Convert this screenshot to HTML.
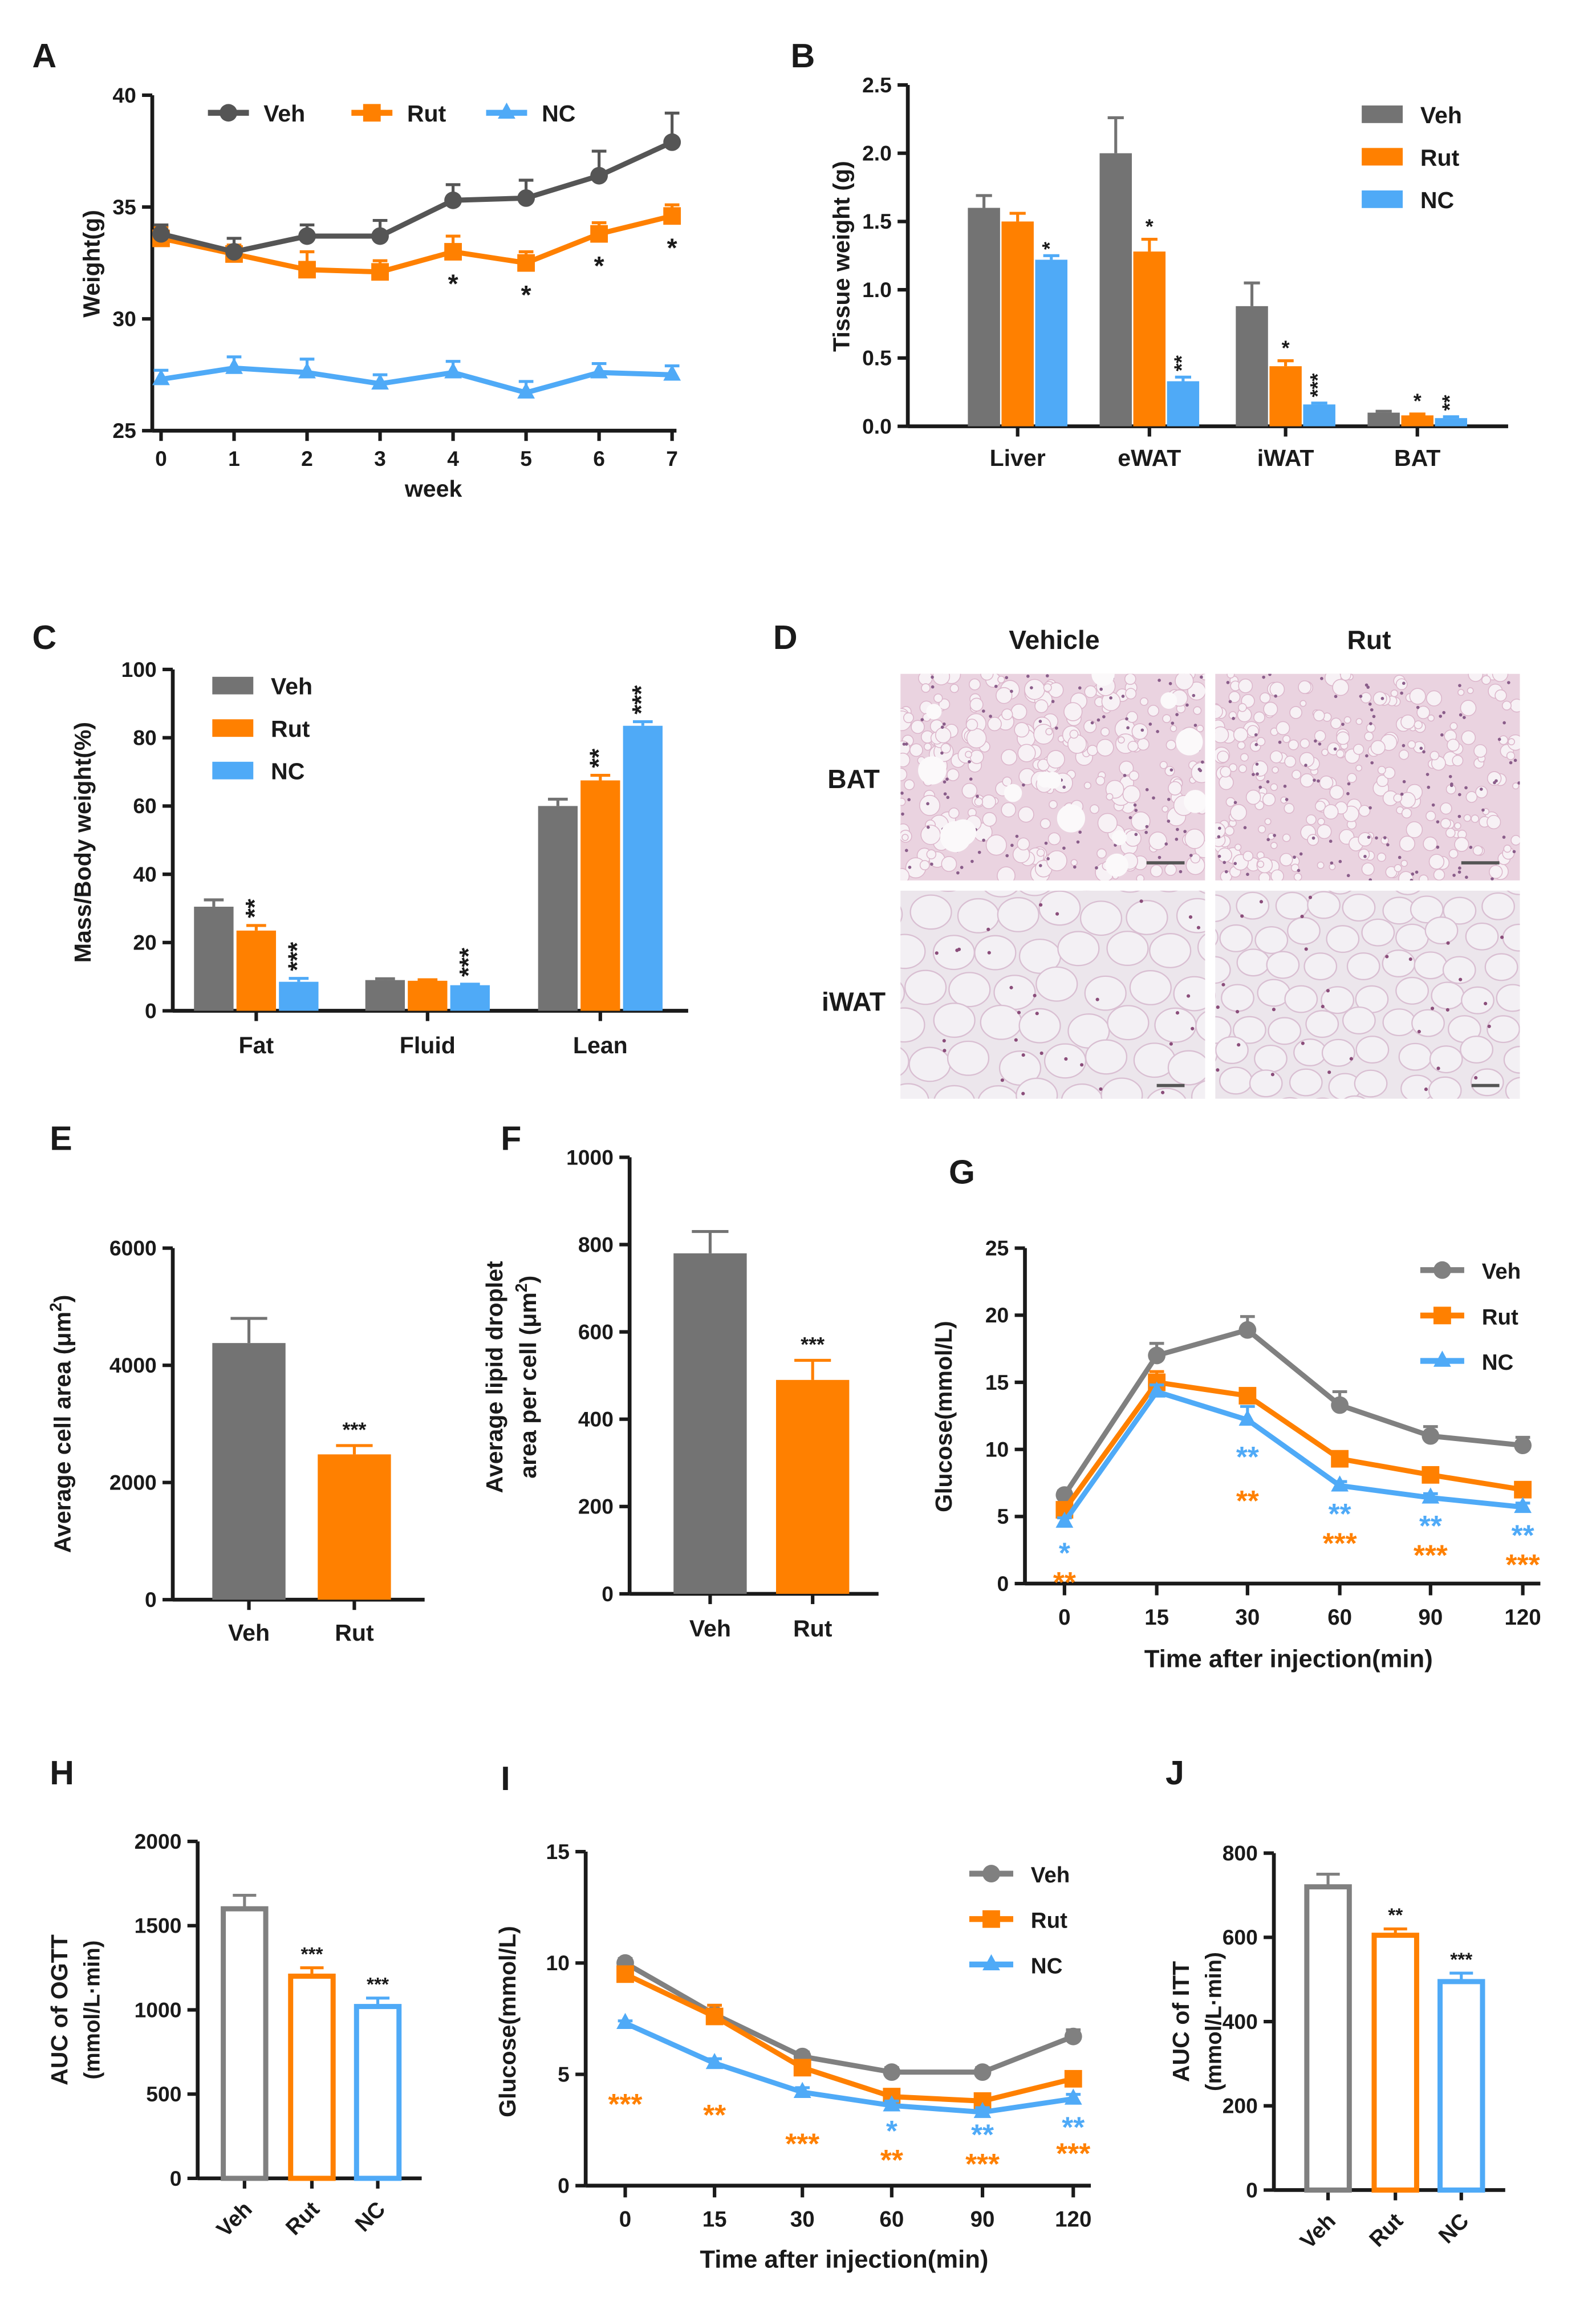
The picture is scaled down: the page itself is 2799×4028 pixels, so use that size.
<!DOCTYPE html>
<html><head><meta charset="utf-8"><style>
html,body{margin:0;padding:0;background:#fff;}
svg{display:block;font-family:"Liberation Sans",Arial,sans-serif;}
</style></head><body>
<svg id="fig" xmlns="http://www.w3.org/2000/svg" width="2799" height="4028" viewBox="0 0 1090 1568" preserveAspectRatio="none"></svg>
<script>
// ---- data ----
const aWeeks=[0,1,2,3,4,5,6,7];
const aVeh=[33.8,33.0,33.7,33.7,35.3,35.4,36.4,37.9];
const aVehErr=[0.4,0.6,0.5,0.7,0.7,0.8,1.1,1.3];
const aRut=[33.6,32.9,32.2,32.1,33.0,32.5,33.8,34.6];
const aRutErr=[0.5,0.4,0.8,0.5,0.7,0.5,0.5,0.5];
const aNC=[27.3,27.8,27.6,27.1,27.6,26.7,27.6,27.5];
const aNCErr=[0.4,0.5,0.6,0.4,0.5,0.5,0.4,0.4];
const aTicks=[25,30,35,40];
const aStars=['','','','','*','*','*','*'];

const bCats=['Liver','eWAT','iWAT','BAT'];
const bVeh=[1.6,2.0,0.88,0.1];
const bVehErr=[0.09,0.26,0.17,0.01];
const bRut=[1.5,1.28,0.44,0.08];
const bRutErr=[0.06,0.09,0.04,0.01];
const bNC=[1.22,0.33,0.16,0.06];
const bNCErr=[0.03,0.03,0.01,0.01];
const bTicks=[0,0.5,1.0,1.5,2.0,2.5];
const bRutStars=['','*','*','*'];
const bNCStars=['*','**','***','**'];

const cCats=['Fat','Fluid','Lean'];
const cVeh=[30.5,9,60];
const cVehErr=[2,0.4,2];
const cRut=[23.5,8.8,67.5];
const cRutErr=[1.5,0.3,1.5];
const cNC=[8.5,7.5,83.5];
const cNCErr=[1,0.3,1.2];
const cTicks=[0,20,40,60,80,100];
const cRutStars=['**','','**'];
const cNCStars=['***','***','***'];

const eCats=['Veh','Rut'];
const eVals=[4380,2480];
const eErr=[420,150];
const eTicks=[0,2000,4000,6000];
const fVals=[780,490];
const fErr=[50,45];
const fTicks=[0,200,400,600,800,1000];

const gTimes=['0','15','30','60','90','120'];
const gVeh=[6.6,17,18.9,13.3,11,10.3];
const gVehErr=[0.3,0.9,1.0,1.0,0.7,0.6];
const gRut=[5.5,15,14,9.3,8.1,7];
const gRutErr=[0.3,0.8,0.4,0.4,0.3,0.3];
const gNC=[4.6,14.3,12.2,7.3,6.4,5.7];
const gNCErr=[0.3,0.5,1.0,0.3,0.3,0.3];
const gTicks=[0,5,10,15,20,25];
const gNCStars=['*','','**','**','**','**'];
const gRutStars=['**','','**','***','***','***'];

const hCats=['Veh','Rut','NC'];
const hVals=[1600,1200,1020];
const hErr=[80,50,50];
const hTicks=[0,500,1000,1500,2000];
const hStars=['','***','***'];

const iTimes=['0','15','30','60','90','120'];
const iVeh=[10,7.7,5.8,5.1,5.1,6.7];
const iVehErr=[0.2,0.4,0.2,0.2,0.2,0.3];
const iRut=[9.5,7.6,5.3,4,3.8,4.8];
const iRutErr=[0.2,0.5,0.2,0.3,0.2,0.3];
const iNC=[7.3,5.5,4.2,3.6,3.3,3.9];
const iNCErr=[0.1,0.2,0.2,0.2,0.2,0.2];
const iTicks=[0,5,10,15];
const iNCStars=['','','','*','**','**'];
const iRutStars=['***','**','***','**','***','***'];

const jVals=[720,605,495];
const jErr=[30,15,20];
const jTicks=[0,200,400,600,800];
const jStars=['','**','***'];

// ---- helpers ----
const NS='http://www.w3.org/2000/svg';
const svg=document.getElementById('fig');
const GRAY='#737373',ORANGE='#ff8000',BLUE='#4faaf7',INK='#1a1a1a';
function mk(tag,a,p){const e=document.createElementNS(NS,tag);for(const k in a)e.setAttribute(k,a[k]);(p||svg).appendChild(e);return e;}
function tx(s,x,y,a,p){const e=mk('text',Object.assign({x:x,y:y,'font-size':15,'font-weight':'bold',fill:INK,'text-anchor':'middle'},a||{}),p);e.textContent=s;return e;}
function group(name){const g=mk('g',{});return g;}
function lin(d0,d1,r0,r1){return v=>r0+(v-d0)*(r1-r0)/(d1-d0);}

function yAxis(g,x,y,ticks,fmt){
  const l=mk('line',{x1:x,y1:y(ticks[0]),x2:x,y2:y(ticks[ticks.length-1]),stroke:INK,'stroke-width':2.6},g);
  
  ticks.forEach(t=>{
    mk('line',{x1:x-7,y1:y(t),x2:x,y2:y(t),stroke:INK,'stroke-width':2.4},g);
    const e=tx(fmt?fmt(t):String(t),x-11,y(t)+5,{'text-anchor':'end','font-size':14.5},g);
    
  });
}
function ytitle(g,s,x,y,size){const e=tx(s,x,y,{transform:`rotate(-90 ${x} ${y})`,'font-size':size||16},g);return e;}
function letter(s,x,y){const e=tx(s,x,y,{'font-size':23,'text-anchor':'start'});}
function marker(g,kind,x,y,c,r){
  r=r||6;let e;
  if(kind==='c') e=mk('circle',{cx:x,cy:y,r:r,fill:c},g);
  else if(kind==='s') e=mk('rect',{x:x-r,y:y-r,width:2*r,height:2*r,fill:c},g);
  else e=mk('polygon',{points:`${x},${y-r-1} ${x-r},${y+r-2} ${x+r},${y+r-2}`,fill:c},g);
  return e;
}
function series(g,xs,vals,errs,y,c,kind,name){
  const pts=vals.map((v,i)=>xs[i]+','+y(v)).join(' ');
  const pl=mk('polyline',{points:pts,fill:'none',stroke:c,'stroke-width':3.5,'stroke-linejoin':'round'},g);
  
  vals.forEach((v,i)=>{
    const top=y(v+errs[i]);
    mk('line',{x1:xs[i],y1:y(v),x2:xs[i],y2:top,stroke:c,'stroke-width':2},g);
    mk('line',{x1:xs[i]-5,y1:top,x2:xs[i]+5,y2:top,stroke:c,'stroke-width':2},g);
    const m=marker(g,kind,xs[i],y(v),c);
    
  });
}
function legend(g,x,y0,dy,names,cols,kinds,size){
  names.forEach((n,i)=>{
    const y=y0+i*dy;
    const ln=mk('line',{x1:x,y1:y,x2:x+30,y2:y,stroke:cols[i],'stroke-width':4},g);
    
    if(kinds) marker(g,kinds[i],x+15,y,cols[i],6);
    const t=tx(n,x+42,y+6,{'text-anchor':'start','font-size':size||16},g);
    
  });
}
function barLegend(g,x,y0,dy,names,cols){
  names.forEach((n,i)=>{
    const y=y0+i*dy;
    const r=mk('rect',{x:x,y:y-6,width:28,height:12,fill:cols[i]},g);
    
    const t=tx(n,x+40,y+6,{'text-anchor':'start','font-size':16},g);
    
  });
}
function bar(g,cx,w,v,err,y,c,name,hollow){
  const r=hollow?mk('rect',{x:cx-w/2+1.5,y:y(v),width:w-3,height:y(0)-y(v),fill:'#fff',stroke:c,'stroke-width':3.5},g)
               :mk('rect',{x:cx-w/2,y:y(v),width:w,height:y(0)-y(v),fill:c},g);
  
  const top=y(v+err);
  mk('line',{x1:cx,y1:y(v),x2:cx,y2:top,stroke:c,'stroke-width':2},g);
  mk('line',{x1:cx-w/4,y1:top,x2:cx+w/4,y2:top,stroke:c,'stroke-width':2},g);
}

// ---- Panel A ----
letter('A',22,46);
(function(){
  const g=group('panel-a-weight-chart');
  const y=lin(25,40,294,65), x=lin(0,7,110,459);
  yAxis(g,104,y,aTicks);
  mk('line',{x1:104,y1:294,x2:462,y2:294,stroke:INK,'stroke-width':2.6},g);
  aWeeks.forEach(w=>{mk('line',{x1:x(w),y1:294,x2:x(w),y2:301,stroke:INK,'stroke-width':2.4},g);
    const t=tx(String(w),x(w),318,{'font-size':14.5},g);});
  const xt=tx('week',296,339,{'font-size':16},g);
  ytitle(g,'Weight(g)',68,180);
  const xs=aWeeks.map(x);
  series(g,xs,aNC,aNCErr,y,BLUE,'t','nc');
  series(g,xs,aRut,aRutErr,y,ORANGE,'s','rut');
  series(g,xs,aVeh,aVehErr,y,'#555','c','veh');
  aStars.forEach((s,i)=>{if(s){const t=tx(s,xs[i],y(aRut[i])+28,{'font-size':18},g);}});
  [['Veh','#555','c',142],['Rut',ORANGE,'s',240],['NC',BLUE,'t',332]].forEach(d=>{
    const ln=mk('line',{x1:d[3],y1:77,x2:d[3]+28,y2:77,stroke:d[1],'stroke-width':4},g);
    
    marker(g,d[2],d[3]+14,77,d[1],6);
    const t=tx(d[0],d[3]+38,83,{'text-anchor':'start','font-size':16},g);
    
  });
})();

// ---- Panel B ----
letter('B',540,46);
(function(){
  const g=group('panel-b-tissue-weight');
  const y=lin(0,2.5,291,58);
  yAxis(g,620,y,bTicks,t=>t.toFixed(1));
  mk('line',{x1:620,y1:291,x2:1030,y2:291,stroke:INK,'stroke-width':2.6},g);
  ytitle(g,'Tissue weight (g)',580,175);
  const cx=[695,785,878,968], w=22;
  bCats.forEach((c,i)=>{
    mk('line',{x1:cx[i],y1:291,x2:cx[i],y2:298,stroke:INK,'stroke-width':2.4},g);
    const t=tx(c,cx[i],318,{'font-size':16},g);
    bar(g,cx[i]-w-1,w,bVeh[i],bVehErr[i],y,GRAY,'bar-veh-'+c.toLowerCase());
    bar(g,cx[i],w,bRut[i],bRutErr[i],y,ORANGE,'bar-rut-'+c.toLowerCase());
    bar(g,cx[i]+w+1,w,bNC[i],bNCErr[i],y,BLUE,'bar-nc-'+c.toLowerCase());
    if(bRutStars[i]){const s=tx(bRutStars[i],cx[i],y(bRut[i]+bRutErr[i])-4,{'font-size':14},g);}
    if(bNCStars[i]){const yy=y(bNC[i]+bNCErr[i])-4;const s=tx(bNCStars[i],cx[i]+w+1,yy,{'font-size':14,transform:`rotate(-90 ${cx[i]+w+1} ${yy})`,'text-anchor':'start','dominant-baseline':'middle'},g);}
  });
  barLegend(g,930,78,29,['Veh','Rut','NC'],[GRAY,ORANGE,BLUE]);
})();

// ---- Panel C ----
letter('C',22,443);
(function(){
  const g=group('panel-c-body-composition');
  const y=lin(0,100,690,457);
  yAxis(g,118,y,cTicks);
  mk('line',{x1:118,y1:690,x2:470,y2:690,stroke:INK,'stroke-width':2.6},g);
  ytitle(g,'Mass/Body weight(%)',62,575);
  const cx=[175,292,410], w=27;
  cCats.forEach((c,i)=>{
    mk('line',{x1:cx[i],y1:690,x2:cx[i],y2:697,stroke:INK,'stroke-width':2.4},g);
    const t=tx(c,cx[i],719,{'font-size':16},g);
    bar(g,cx[i]-w-2,w,cVeh[i],cVehErr[i],y,GRAY,'bar-veh-'+c.toLowerCase());
    bar(g,cx[i],w,cRut[i],cRutErr[i],y,ORANGE,'bar-rut-'+c.toLowerCase());
    bar(g,cx[i]+w+2,w,cNC[i],cNCErr[i],y,BLUE,'bar-nc-'+c.toLowerCase());
    [[cRutStars[i],cx[i],cRut[i]+cRutErr[i]],[cNCStars[i],cx[i]+w+2,cNC[i]+cNCErr[i]]].forEach(d=>{
      if(!d[0])return;const yy=y(d[2])-5;
      const s=tx(d[0],d[1],yy,{'font-size':17,transform:`rotate(-90 ${d[1]} ${yy})`,'text-anchor':'start','dominant-baseline':'middle'},g);
      
    });
  });
  barLegend(g,145,468,29,['Veh','Rut','NC'],[GRAY,ORANGE,BLUE]);
})();

// ---- Panel D (histology) ----
letter('D',528,443);
(function(){
  const g=group('panel-d-histology');
  const tv=tx('Vehicle',720,443,{'font-size':18},g);
  const tr=tx('Rut',935,443,{'font-size':18},g);
  const lb=tx('BAT',583,538,{'font-size':18},g);
  const li=tx('iWAT',583,690,{'font-size':18},g);
  const panels=[[615,460,208,141,'bat-vehicle'],[830,460,208,141,'bat-rut'],[615,608,208,142,'iwat-vehicle'],[830,608,208,142,'iwat-rut']];
  let seed=7;function rnd(){seed=(seed*9301+49297)%233280;return seed/233280;}
  panels.forEach((p,k)=>{
    const isBat=k<2;
    const clip=mk('clipPath',{id:'cp'+k},g);
    mk('rect',{x:p[0],y:p[1],width:p[2],height:p[3]},clip);
    const r=mk('rect',{x:p[0],y:p[1],width:p[2],height:p[3],fill:isBat?'#ead3e0':'#ece6ec'},g);
    
    const cg=mk('g',{'clip-path':`url(#cp${k})`},g);
    if(isBat){
      for(let i=0;i<260;i++){const cx=p[0]+rnd()*p[2],cy=p[1]+rnd()*p[3];
        mk('circle',{cx:cx,cy:cy,r:2+rnd()*(k===0?5:3.5),fill:'#f7f1f5',stroke:'#dcb6cb','stroke-width':0.6},cg);}
      for(let i=0;i<110;i++){mk('circle',{cx:p[0]+rnd()*p[2],cy:p[1]+rnd()*p[3],r:1.1,fill:'#8a5d8a'},cg);}
      if(k===0){for(let i=0;i<14;i++){mk('circle',{cx:p[0]+rnd()*p[2],cy:p[1]+rnd()*p[3],r:5+rnd()*6,fill:'#fbf9fa'},cg);}}
    } else {
      const step=k===2?30:24;
      for(let yy=p[1]-10;yy<p[1]+p[3]+20;yy+=step*0.85){for(let xx=p[0]-10;xx<p[0]+p[2]+20;xx+=step){
        const ox=(rnd()-0.5)*8,oy=(rnd()-0.5)*8;
        mk('ellipse',{cx:xx+ox+((yy/step|0)%2)*step/2,cy:yy+oy,rx:step/2-1,ry:step*0.42-1,fill:'#f3f0f4',stroke:'#d9bfd2','stroke-width':0.9},cg);}}
      for(let i=0;i<30;i++){mk('circle',{cx:p[0]+rnd()*p[2],cy:p[1]+rnd()*p[3],r:1.2,fill:'#8a4d7a'},cg);}
    }
    const sb=mk('line',{x1:p[0]+p[2]-(isBat?40:33),y1:p[1]+p[3]-(isBat?12:9),x2:p[0]+p[2]-14,y2:p[1]+p[3]-(isBat?12:9),stroke:'#555','stroke-width':2.2},g);
    
  });
})();

// ---- Panel E ----
letter('E',34,785);
(function(){
  const g=group('panel-e-cell-area');
  const y=lin(0,6000,1092,852);
  yAxis(g,118,y,eTicks);
  mk('line',{x1:118,y1:1092,x2:290,y2:1092,stroke:INK,'stroke-width':2.6},g);
  const t=tx('Average cell area (μm',48,972,{transform:'rotate(-90 48 972)','font-size':16},g);
  const sp=mk('tspan',{'baseline-shift':'super','font-size':11},t);sp.textContent='2';
  const sp2=mk('tspan',{},t);sp2.textContent=')';
  
  const cx=[170,242];
  eCats.forEach((c,i)=>{
    mk('line',{x1:cx[i],y1:1092,x2:cx[i],y2:1099,stroke:INK,'stroke-width':2.4},g);
    const l=tx(c,cx[i],1120,{'font-size':16},g);
    bar(g,cx[i],50,eVals[i],eErr[i],y,i?ORANGE:GRAY,'bar-'+c.toLowerCase());
  });
  const s=tx('***',242,y(eVals[1]+eErr[1])-6,{'font-size':14},g);
})();

// ---- Panel F ----
letter('F',342,785);
(function(){
  const g=group('panel-f-lipid-droplet');
  const y=lin(0,1000,1088,790);
  yAxis(g,430,y,fTicks);
  mk('line',{x1:430,y1:1088,x2:600,y2:1088,stroke:INK,'stroke-width':2.6},g);
  const t1=tx('Average lipid droplet',343,940,{transform:'rotate(-90 343 940)','font-size':16},g);
  
  const t=tx('area per cell (μm',366,940,{transform:'rotate(-90 366 940)','font-size':16},g);
  const sp=mk('tspan',{'baseline-shift':'super','font-size':11},t);sp.textContent='2';
  const sp2=mk('tspan',{},t);sp2.textContent=')';
  
  const cx=[485,555];
  eCats.forEach((c,i)=>{
    mk('line',{x1:cx[i],y1:1088,x2:cx[i],y2:1095,stroke:INK,'stroke-width':2.4},g);
    const l=tx(c,cx[i],1117,{'font-size':16},g);
    bar(g,cx[i],50,fVals[i],fErr[i],y,i?ORANGE:GRAY,'bar-'+c.toLowerCase());
  });
  const s=tx('***',555,y(fVals[1]+fErr[1])-6,{'font-size':14},g);
})();

// ---- line chart G / I ----
function glucose(name,ax,ticks,y,xs,times,veh,vehE,rut,rutE,nc,ncE,ncS,rutS,xTitleY,legX,legY,dyS){
  const g=group(name);
  yAxis(g,ax,y,ticks);
  mk('line',{x1:ax,y1:y(0),x2:xs[xs.length-1]+12,y2:y(0),stroke:INK,'stroke-width':2.6},g);
  times.forEach((t,i)=>{mk('line',{x1:xs[i],y1:y(0),x2:xs[i],y2:y(0)+8,stroke:INK,'stroke-width':2.4},g);
    const l=tx(t,xs[i],y(0)+28,{'font-size':15},g);});
  const xt=tx('Time after injection(min)',(ax+xs[xs.length-1])/2+10,xTitleY,{'font-size':17},g);
  series(g,xs,veh,vehE,y,'#808080','c','veh');
  series(g,xs,rut,rutE,y,ORANGE,'s','rut');
  series(g,xs,nc,ncE,y,BLUE,'t','nc');
  xs.forEach((x,i)=>{
    const base=y(nc[i]);
    if(ncS[i]){const s=tx(ncS[i],x,base+dyS[0][i],{'font-size':20,fill:BLUE},g);}
    if(rutS[i]){const s=tx(rutS[i],x,base+dyS[1][i],{'font-size':20,fill:ORANGE},g);}
  });
  legend(g,legX,legY,31,['Veh','Rut','NC'],['#808080',ORANGE,BLUE],['c','s','t'],15);
  return g;
}
letter('G',648,808);
(function(){
  const y=lin(0,25,1081,852);
  const g=glucose('panel-g-ogtt',700,gTicks,y,[727,790,852,915,977,1040],gTimes,gVeh,gVehErr,gRut,gRutErr,gNC,gNCErr,gNCStars,gRutStars,1138,970,867,
    [[28,0,32,26,26,26],[48,0,62,46,46,46]]);
  ytitle(g,'Glucose(mmol/L)',650,967,16);
})();
letter('I',342,1222);
(function(){
  const y=lin(0,15,1492,1264);
  const g=glucose('panel-i-itt',400,iTicks,y,[427,488,548,609,671,733],iTimes,iVeh,iVehErr,iRut,iRutErr,iNC,iNCErr,iNCStars,iRutStars,1548,662,1279,
    [[0,0,0,24,22,26],[62,42,42,44,42,44]]);
  ytitle(g,'Glucose(mmol/L)',352,1380,16);
})();

// ---- bar H / J ----
function aucBars(name,ax,ticks,y,cx,vals,errs,stars,title1,title2,tx1,ty){
  const g=group(name);
  yAxis(g,ax,y,ticks);
  mk('line',{x1:ax,y1:y(0),x2:cx[2]+30,y2:y(0),stroke:INK,'stroke-width':2.6},g);
  const cols=['#808080',ORANGE,BLUE];
  hCats.forEach((c,i)=>{
    mk('line',{x1:cx[i],y1:y(0),x2:cx[i],y2:y(0)+7,stroke:INK,'stroke-width':2.4},g);
    const lx=cx[i]+6,ly=y(0)+22;
    const l=tx(c,lx,ly,{'font-size':15,'text-anchor':'end',transform:`rotate(-45 ${lx} ${ly})`},g);
    bar(g,cx[i],32,vals[i],errs[i],y,cols[i],'bar-'+c.toLowerCase(),true);
    if(stars[i]){const s=tx(stars[i],cx[i],y(vals[i]+errs[i])-5,{'font-size':13},g);}
  });
  const a=tx(title1,tx1,ty,{transform:`rotate(-90 ${tx1} ${ty})`,'font-size':16},g);
  const b=tx(title2,tx1+22,ty,{transform:`rotate(-90 ${tx1+22} ${ty})`,'font-size':15},g);
}
letter('H',34,1218);
aucBars('panel-h-auc-ogtt',135,hTicks,lin(0,2000,1487,1257),[167,213,258],hVals,hErr,hStars,'AUC of OGTT','(mmol/L·min)',46,1372);
letter('J',796,1218);
aucBars('panel-j-auc-itt',870,jTicks,lin(0,800,1495,1265),[907,953,998],jVals,jErr,jStars,'AUC of ITT','(mmol/L·min)',812,1380);
</script>
</body></html>
